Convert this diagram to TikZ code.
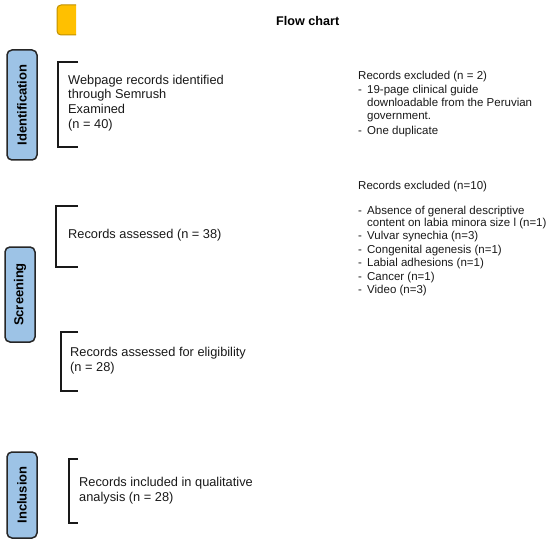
\documentclass[tikz,border=0pt]{standalone}
\usepackage{fontspec}
\setmainfont{Liberation Sans}
\definecolor{phaseblue}{RGB}{157,195,230}
\definecolor{titlegold}{RGB}{255,192,0}
\definecolor{titleedge}{RGB}{191,144,0}
\newcommand{\dashitem}{\makebox[9pt][l]{-}}
\newcommand{\dashgap}{\hspace*{9pt}}
\begin{document}
\begin{tikzpicture}[x=1pt,y=-1pt,line cap=butt,
    phase/.style={draw=black!85,line width=1.5pt,fill=phaseblue,rounded corners=5pt,
        rotate=90,minimum height=30pt,inner sep=0pt,font=\fontsize{13}{15}\selectfont\bfseries},
    bracket/.style={line width=1.6pt,black!90},
    stage/.style={anchor=west,inner sep=0pt,align=left,text=black!90,font=\fontsize{12.8}{14.7}\selectfont},
    excl/.style={anchor=west,inner sep=0pt,align=left,text=black!90,font=\fontsize{11.5}{13}\selectfont}]
        \useasboundingbox (0,0) rectangle (550,543);

        % draw the title
        \filldraw[fill=titlegold,draw=titleedge,line width=1pt,rounded corners=4pt]
            (76,5) -- (57,5) -- (57,35) -- (76,35);
        \node[font=\fontsize{12.6}{14}\selectfont\bfseries,anchor=west,inner sep=0pt] (title) at (276,21) {Flow chart};

        % draw the phases
        \node[phase,minimum width=110pt] (ident) at (22,105) {Identification};
        \node[phase,minimum width=95pt] (screen) at (20,294.5) {Screening};
        \node[phase,minimum width=86pt] (incl) at (22,495) {Inclusion};

        % draw the brackets
        \foreach \xa/\ya/\yb in {
            58/62/147,
            56/206/267,
            61/332/391,
            69/459/523}
                \draw[bracket] (78,\ya) -- (\xa,\ya) -- (\xa,\yb) -- (78,\yb);

        % draw the stages
        \node[stage] (webpage) at (68,103) {Webpage records identified\\through Semrush\\Examined\\(n = 40)};
        \node[stage] (assessed) at (68,235) {Records assessed (n = 38)};
        \node[stage] (eligible) at (70,361) {Records assessed for eligibility\\(n = 28)};
        \node[stage] (included) at (79,490.5) {Records included in qualitative\\analysis (n = 28)};

        % draw the exclusions
        \node[excl] (exclA) at (358,103.8) {Records excluded (n = 2)\\[1pt]
            \dashitem 19-page clinical guide\\
            \dashgap downloadable from the Peruvian\\
            \dashgap government.\\[2pt]
            \dashitem One duplicate};
        \node[excl] (exclB) at (358,187) {Records excluded (n=10)};
        \node[excl,font=\fontsize{11.5}{12}\selectfont] (exclBlist) at (358,251) {%
            \dashitem Absence of general descriptive\\
            \dashgap content on labia minora size l (n=1)\\[1.5pt]
            \dashitem Vulvar synechia (n=3)\\[1.5pt]
            \dashitem Congenital agenesis (n=1)\\[1.5pt]
            \dashitem Labial adhesions (n=1)\\[1.5pt]
            \dashitem Cancer (n=1)\\[1.5pt]
            \dashitem Video (n=3)};
\end{tikzpicture}
\end{document}
